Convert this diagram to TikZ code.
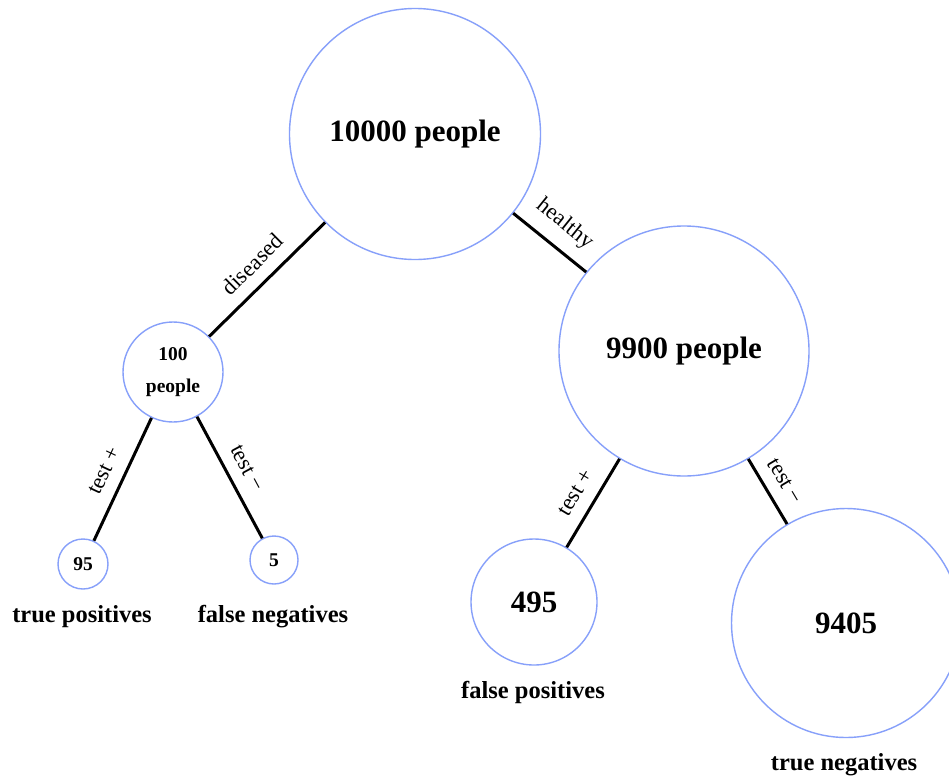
\documentclass[tikz,border=0pt]{standalone}
\usepackage{fontspec}
\setmainfont{Liberation Serif}
\definecolor{ringblue}{RGB}{135,160,250}
\begin{document}
\begin{tikzpicture}[x=1pt,y=-1pt,
  pop/.style={circle, draw=ringblue, line width=1.4pt, inner sep=0pt, fill=white, font=\bfseries, align=center},
  edge/.style={line width=3pt, black},
  elbl/.style={font=\fontsize{22.5}{26}\selectfont, sloped, above, inner sep=0pt, yshift=12pt},
  captxt/.style={font=\fontsize{24.5}{28}\selectfont\bfseries, inner sep=0pt}]
\clip (0,0) rectangle (949,782);
\fill[white] (0,0) rectangle (949,782);
\node[pop, minimum size=251pt, font=\fontsize{31}{36}\selectfont\bfseries] (all) at (415,134) {10000 people};
\node[pop, minimum size=100pt, font=\fontsize{19.5}{32}\selectfont\bfseries] (dis) at (173,372) {100\\people};
\node[pop, minimum size=250pt, font=\fontsize{31}{36}\selectfont\bfseries] (hea) at (684,351) {9900 people};
\node[pop, minimum size=50pt, font=\fontsize{19.5}{22}\selectfont\bfseries] (tp) at (83,564) {95};
\node[pop, minimum size=48pt, font=\fontsize{19.5}{22}\selectfont\bfseries] (fn) at (274,560) {5};
\node[pop, minimum size=126pt, font=\fontsize{31}{36}\selectfont\bfseries] (fp) at (534,602) {495};
\node[pop, minimum size=229pt, font=\fontsize{31}{36}\selectfont\bfseries] (tn) at (846,623) {9405};
\draw[edge] (all) -- node[elbl] {diseased} (dis);
\draw[edge] (all) -- node[elbl] {healthy} (hea);
\draw[edge] (dis) -- node[elbl] {test +} (tp);
\draw[edge] (dis) -- node[elbl] {test −} (fn);
\draw[edge] (hea) -- node[elbl] {test +} (fp);
\draw[edge] (hea) -- node[elbl] {test −} (tn);
\node[captxt] (tpl) at (82,617) {true positives};
\node[captxt] (fnl) at (273,617) {false negatives};
\node[captxt] (fpl) at (533,692) {false positives};
\node[captxt] (tnl) at (844,765) {true negatives};
\end{tikzpicture}
\end{document}
